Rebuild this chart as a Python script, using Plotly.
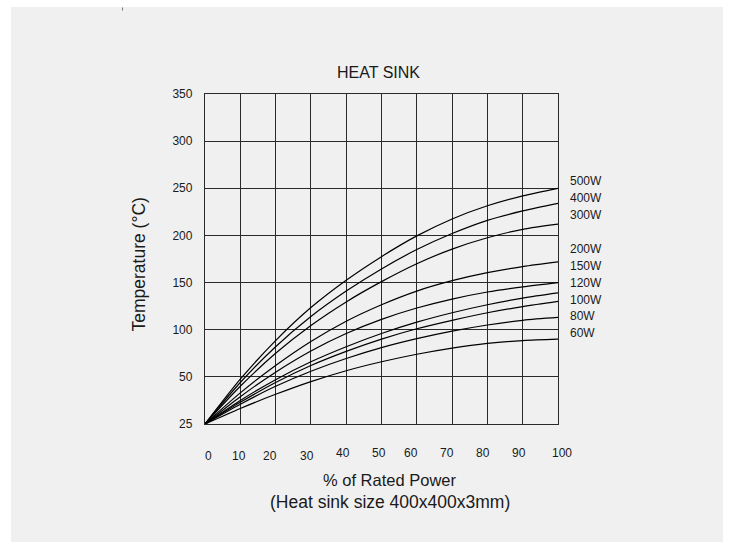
import numpy as np
import plotly.graph_objects as go

# % of rated power
power_pct = [0, 10, 20, 30, 40, 50, 60, 70, 80, 90, 100]

# Surface temperature (°C) for each resistor rating
series_names = ["500W", "400W", "300W", "200W", "150W", "120W", "100W", "80W", "60W"]
t_500w = [25, 48.75, 88.5, 123.5, 152.5, 177.5, 199.5, 217.5, 231.5, 242, 250]
t_400w = [25, 47, 82, 114, 141, 164.5, 185, 202, 216, 226, 234]
t_300w = [25, 45, 75, 104.5, 129.5, 151, 170, 185.5, 197.5, 206.5, 212]
t_200w = [25, 41.5, 62, 87.5, 109, 126.5, 141, 152, 160.5, 167, 172]
t_150w = [25, 39.5, 55, 77.5, 96, 111, 123, 132.5, 140, 145.5, 150]
t_120w = [25, 37.5, 48.5, 66, 82, 96, 108, 118, 126.5, 133.5, 139]
t_100w = [25, 36.5, 47, 62, 77, 90, 101, 110, 118, 124.5, 130]
t_80w = [25, 35.5, 45, 56, 69.5, 81, 90.5, 98.5, 105, 110, 113]
t_60w = [25, 33.25, 40.75, 47.5, 56.5, 66, 74, 80.5, 85.5, 88.5, 90]
series_values = [t_500w, t_400w, t_300w, t_200w, t_150w, t_120w, t_100w, t_80w, t_60w]

# Temperature axis ticks (equally spaced on the chart)
temp_ticks = [25, 50, 100, 150, 200, 250, 300, 350]
temp_tick_labels = ["25", "50", "100", "150", "200", "250", "300", "350"]
x_tick_labels = ["0", "10", "20", "30", "40", "50", "60", "70", "80", "90", "100"]

tick_pos = list(range(len(temp_ticks)))


def temp_to_axis(t):
    # piecewise-linear temperature scale: each tick interval takes one unit
    return np.interp(t, temp_ticks, tick_pos)


FONT = "Arial, Liberation Sans, sans-serif"
GRID = "#2a2a2a"
TEXT = "#1a1a1a"

fig = go.Figure()
for name, vals in zip(series_names, series_values):
    fig.add_trace(go.Scatter(
        x=power_pct, y=temp_to_axis(vals), mode="lines", name=name,
        line=dict(color="black", width=1.2, shape="spline", smoothing=0.8),
        showlegend=False, hoverinfo="skip",
    ))

W, H = 731, 550
ML, MR, MT, MB = 205, 173, 94, 126
PW, PH = W - ML - MR, H - MT - MB


def px_x(px):
    return (px - ML) / PW


def px_y(py):
    return (H - MB - py) / PH


annotations = []

# series labels stacked to the right of the plot
label_rows = [5.146, 4.794, 4.44, 3.719, 3.352, 2.991, 2.637, 2.283, 1.93]
for name, yrow in zip(series_names, label_rows):
    annotations.append(dict(
        x=100, y=yrow, xref="x", yref="y", text=name, showarrow=False,
        xanchor="left", yanchor="middle", xshift=10,
        font=dict(family=FONT, size=12, color=TEXT),
    ))

# x tick labels (slightly staggered baseline)
x_label_dx = [3.5, -1.5, -5.3, -4, -3.2, -2.5, -6.3, -5.6, -4.2, -3.5, 3.7]
x_label_dy = [-32, -32, -32, -32, -28.5, -28.5, -28.5, -28.5, -28.5, -28.5, -28.5]
for v, lab, dx, dy in zip(power_pct, x_tick_labels, x_label_dx, x_label_dy):
    annotations.append(dict(
        x=v, y=0, xref="x", yref="paper", text=lab, showarrow=False,
        xanchor="center", yanchor="middle", xshift=dx, yshift=dy,
        font=dict(family=FONT, size=12, color=TEXT),
    ))

# titles
annotations += [
    dict(x=px_x(378.5), y=px_y(72), xref="paper", yref="paper", text="HEAT SINK",
         showarrow=False, xanchor="center", yanchor="middle",
         font=dict(family=FONT, size=16, color=TEXT)),
    dict(x=px_x(138), y=px_y(264.5), xref="paper", yref="paper",
         text="Temperature (°C)", textangle=-90, showarrow=False,
         xanchor="center", yanchor="middle",
         font=dict(family=FONT, size=17.5, color=TEXT)),
    dict(x=px_x(389.5), y=px_y(480), xref="paper", yref="paper",
         text="% of Rated Power", showarrow=False,
         xanchor="center", yanchor="middle",
         font=dict(family=FONT, size=16.5, color=TEXT)),
    dict(x=px_x(390), y=px_y(501.5), xref="paper", yref="paper",
         text="(Heat sink size 400x400x3mm)", showarrow=False,
         xanchor="center", yanchor="middle",
         font=dict(family=FONT, size=17.5, color=TEXT)),
]

shapes = [
    # light gray panel
    dict(type="rect", xref="paper", yref="paper",
         x0=px_x(11), x1=px_x(723), y0=px_y(542), y1=px_y(7),
         fillcolor="#f0f0f0", line=dict(width=0), layer="below"),
    dict(type="line", xref="paper", yref="paper",
         x0=px_x(122.5), x1=px_x(122.5), y0=px_y(10.5), y1=px_y(7.5),
         line=dict(color="#777777", width=1), layer="above"),
]

fig.update_layout(
    width=W, height=H,
    margin=dict(l=ML, r=MR, t=MT, b=MB, pad=0),
    paper_bgcolor="white",
    plot_bgcolor="#f0f0f0",
    annotations=annotations,
    shapes=shapes,
    xaxis=dict(
        range=[0, 100], tickvals=power_pct, showticklabels=False,
        showgrid=True, gridcolor=GRID, gridwidth=1.3, zeroline=False,
        showline=True, linecolor=GRID, linewidth=1.3, mirror=True, ticks="",
        fixedrange=True,
    ),
    yaxis=dict(
        range=[0, 7], tickvals=tick_pos, ticktext=temp_tick_labels,
        showgrid=True, gridcolor=GRID, gridwidth=1.3, zeroline=False,
        showline=True, linecolor=GRID, linewidth=1.3, mirror=True,
        ticks="", ticklabelstandoff=9,
        tickfont=dict(family=FONT, size=12, color=TEXT),
        fixedrange=True,
    ),
)

fig.write_html("out.html")
